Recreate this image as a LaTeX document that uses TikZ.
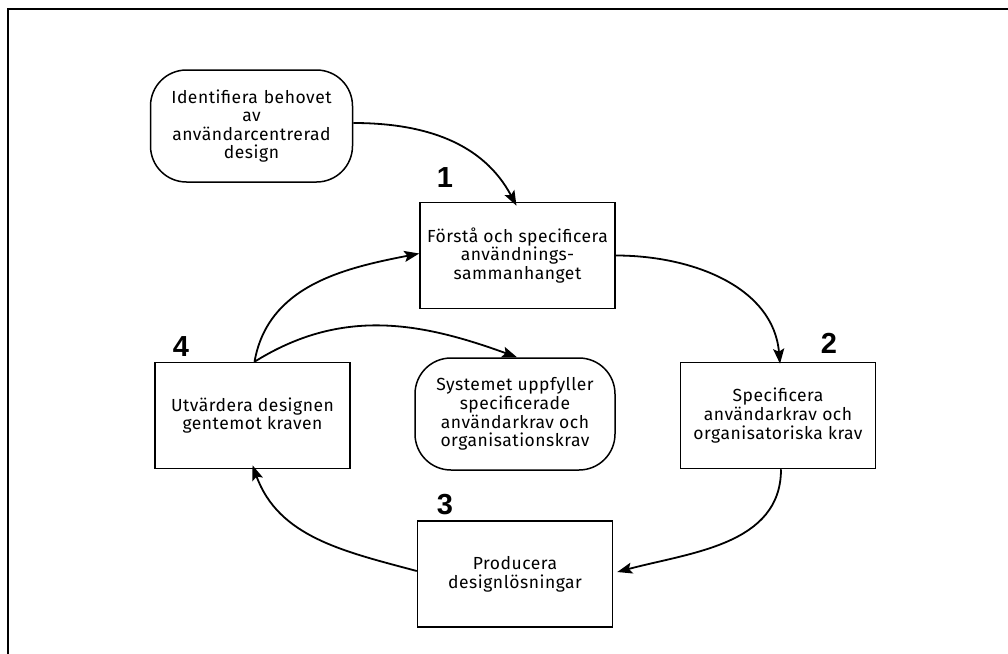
\documentclass[tikz,border=0pt]{standalone}
\usepackage{fontspec}
\setmainfont{Fira Sans}[LetterSpace=3.0]
\newfontfamily\numfont{Liberation Sans}
\usetikzlibrary{arrows.meta}
\tikzset{
  lbl/.style={font=\fontsize{17.5}{18.6}\selectfont, align=center, inner sep=0pt},
  stepbox/.style={lbl, draw, line width=1.5pt, minimum width=195pt, minimum height=106pt},
  roundbox/.style={lbl, draw, line width=1.5pt, rounded corners=36pt, minimum width=202pt, minimum height=112pt},
  num/.style={font=\numfont\bfseries\fontsize{29}{29}\selectfont, inner sep=0pt},
  conn/.style={line width=1.8pt, -{Stealth[length=15pt,width=11pt,inset=3pt]}}
}
\begin{document}
\begin{tikzpicture}[x=1pt,y=-1pt]
\useasboundingbox (0,0) rectangle (1008,653);
\coordinate (bl) at (7.5,660);
\coordinate (tl) at (7.5,9);
\coordinate (tr) at (1010,9);
\draw[line width=2pt] (bl) -- (tl) -- (tr);

\node[roundbox, text width=190pt] (ident) at (251.5,126) {Identifiera behovet\\ av\\ användarcentrerad\\ design};
\node[stepbox] (box1) at (517.5,255.5) {Förstå och specificera\\användnings-\\sammanhanget};
\node[stepbox] (box2) at (778,415.5) {Specificera\\användarkrav och\\organisatoriska krav};
\node[stepbox] (box3) at (515,574) {Producera\\designlösningar};
\node[stepbox] (box4) at (252.5,415.5) {Utvärdera designen\\gentemot kraven};
\node[roundbox, minimum width=200pt] (sys) at (515,414) {Systemet uppfyller\\specificerade\\användarkrav och\\organisationskrav};

\node[num] (n1) at (445,178) {1};
\node[num] (n2) at (829,343) {2};
\node[num] (n3) at (445,505) {3};
\node[num] (n4) at (181,347) {4};

\draw[conn] ([yshift=3pt]ident.east) to[out=0,in=118] ([xshift=-1pt,yshift=-4pt]box1.north);
\draw[conn] (box1.east) to[out=0,in=95] ([xshift=2pt,yshift=-2pt]box2.north);
\draw[conn] ([xshift=3pt]box2.south) to[out=-90,in=15] ([xshift=4pt,yshift=2pt]box3.east);
\draw[conn] ([yshift=3pt]box3.west) to[out=165,in=-70] ([yshift=4pt]box4.south);
\draw[conn] ([xshift=2pt]box4.north) to[out=80,in=191] ([yshift=2pt]box1.west);
\draw[conn] ([xshift=2pt]box4.north) to[out=32,in=160] ([xshift=2pt]sys.north);
\end{tikzpicture}
\end{document}
